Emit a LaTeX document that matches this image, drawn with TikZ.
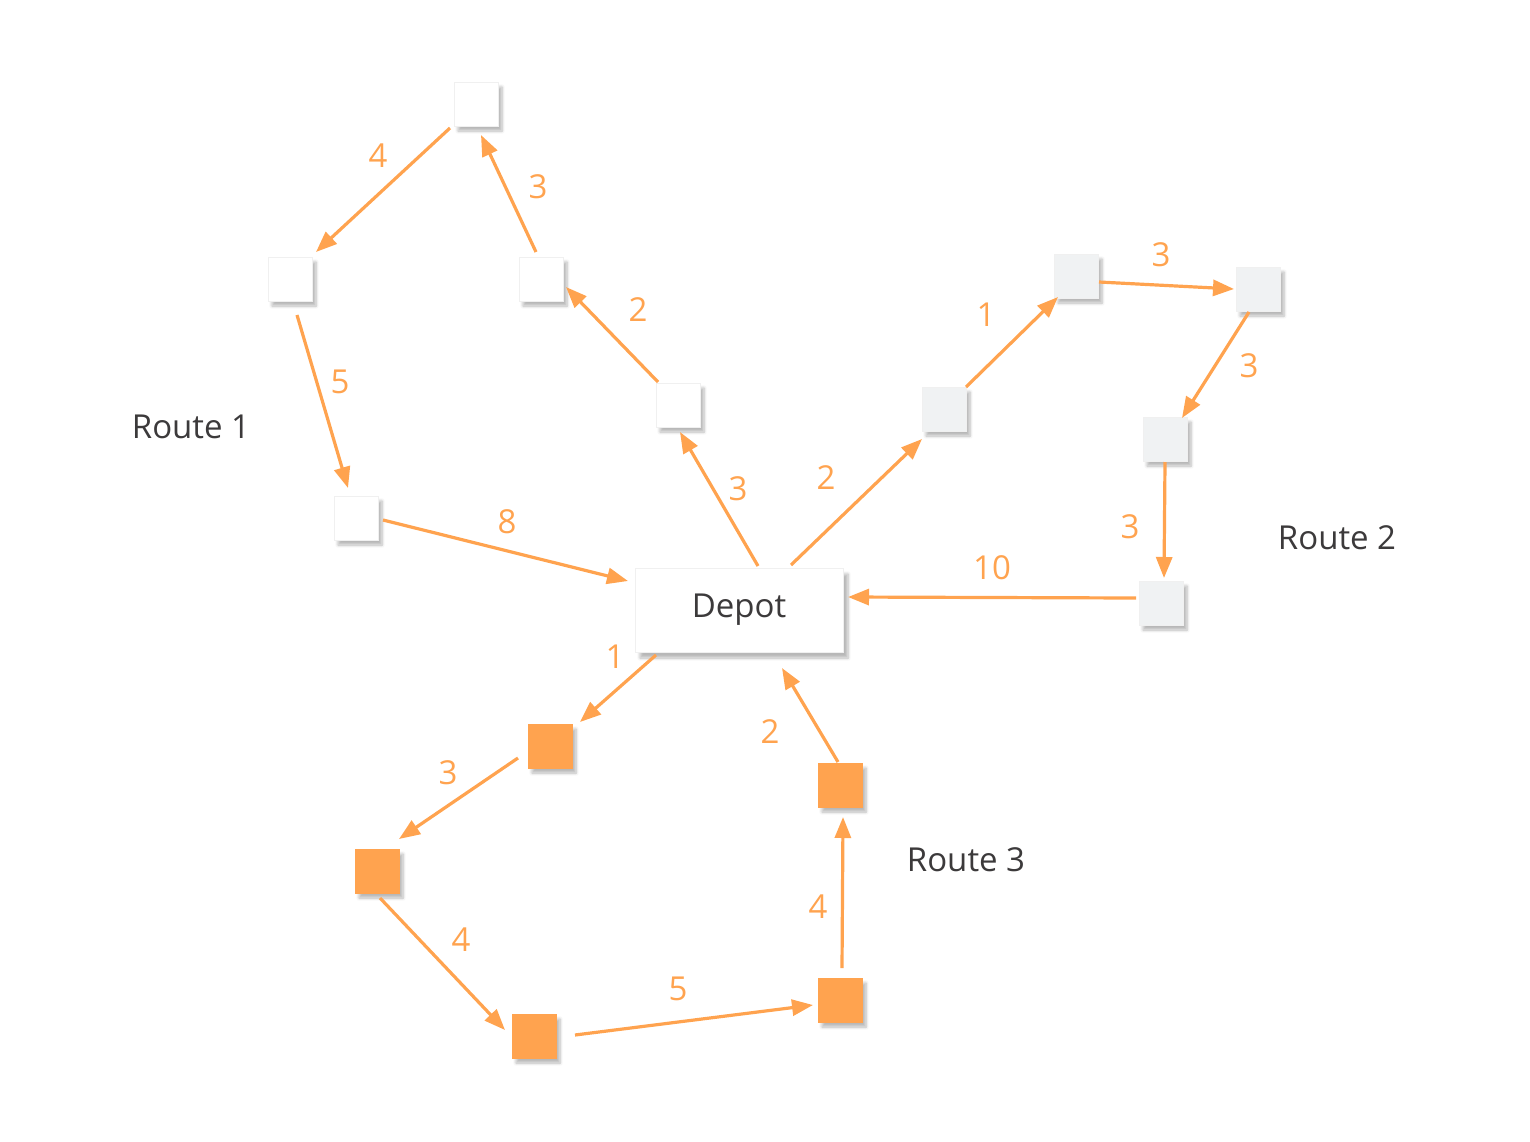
\documentclass[tikz,border=0pt]{standalone}
\usepackage{fontspec}
\setmainfont{Open Sans}
\usetikzlibrary{arrows.meta,shadows,shadows.blur}
\definecolor{edgeor}{HTML}{FFA34F}
\definecolor{txtgray}{HTML}{3C3A3B}
\definecolor{r2fill}{HTML}{F0F2F3}
\definecolor{shadowc}{HTML}{D6D8DA}
\tikzset{
  basebox/.style={rectangle, inner sep=0pt, minimum size=44pt,
    draw=black!6, line width=0.6pt,
    blur shadow={shadow xshift=4pt, shadow yshift=-5pt, shadow blur radius=3pt,
      shadow blur steps=6, shadow opacity=28}},
  rAbox/.style={basebox, fill=white},
  rBbox/.style={basebox, fill=r2fill},
  rCbox/.style={basebox, fill=edgeor, draw=edgeor},
  depotbox/.style={rectangle, inner sep=0pt, minimum width=208pt, minimum height=84pt,
    fill=white, draw=black!6, line width=0.6pt,
    blur shadow={shadow xshift=5pt, shadow yshift=-6pt, shadow blur radius=3pt,
      shadow blur steps=6, shadow opacity=28},
    font=\fontsize{33}{38}\selectfont, text=txtgray},
  routelbl/.style={font=\fontsize{33}{38}\selectfont, text=txtgray, inner sep=0pt},
  wlbl/.style={font=\fontsize{33}{38}\selectfont, text=edgeor, inner sep=0pt},
  arr/.style={draw=edgeor, line width=3.2pt, -{Triangle[length=21pt,width=16pt]}},
}
\begin{document}
\begin{tikzpicture}[x=1pt,y=-1pt]
\useasboundingbox (0,0) rectangle (1530,1141);
% nodes
\node[depotbox] (depot) at (739,610) {Depot};
% route 1
\node[rAbox] (a1) at (476,104) {};
\node[rAbox] (a2) at (290,279) {};
\node[rAbox] (a3) at (541,279) {};
\node[rAbox] (a4) at (678,405) {};
\node[rAbox] (a5) at (356,518) {};
% route 2
\node[rBbox] (b1) at (944,409) {};
\node[rBbox] (b2) at (1076,276) {};
\node[rBbox] (b3) at (1258,289) {};
\node[rBbox] (b4) at (1165,439) {};
\node[rBbox] (b5) at (1161,603) {};
% route 3
\node[rCbox] (c1) at (550,746) {};
\node[rCbox] (c2) at (377,871) {};
\node[rCbox] (c3) at (534,1036) {};
\node[rCbox] (c4) at (840,1000) {};
\node[rCbox] (c5) at (840,785) {};
% route labels
\node[routelbl] (lr1) at (191,427) {Route 1};
\node[routelbl] (lr2) at (1337,538) {Route 2};
\node[routelbl] (lr3) at (966,860) {Route 3};
% connectors route 1
\draw[arr] ([shift={(19,-44)}]depot.center) -- ([shift={(2,27)}]a4.center);
\draw[arr] ([shift={(-20,-23)}]a4.center) -- ([shift={(25,8)}]a3.center);
\draw[arr] ([shift={(-5,-27)}]a3.center) -- ([shift={(5,31)}]a1.center);
\draw[arr] ([shift={(-26,24)}]a1.center) -- ([shift={(26,-27)}]a2.center);
\draw[arr] ([shift={(7,36)}]a2.center) -- ([shift={(-8,-30)}]a5.center);
\draw[arr] ([shift={(27,2)}]a5.center) -- ([shift={(-111,-29)}]depot.center);
% connectors route 2
\draw[arr] ([shift={(52,-45)}]depot.center) -- ([shift={(-22,30)}]b1.center);
\draw[arr] ([shift={(22,-22)}]b1.center) -- ([shift={(-18,21)}]b2.center);
\draw[arr] ([shift={(23,6)}]b2.center) -- ([shift={(-24,0)}]b3.center);
\draw[arr] ([shift={(-9,23)}]b3.center) -- ([shift={(17,-21)}]b4.center);
\draw[arr] ([shift={(0,23)}]b4.center) -- ([shift={(3,-25)}]b5.center);
\draw[arr] ([shift={(-25,-5)}]b5.center) -- ([shift={(109,-13)}]depot.center);
% connectors route 3
\draw[arr] ([shift={(-83,45)}]depot.center) -- ([shift={(30,-24)}]c1.center);
\draw[arr] ([shift={(-32,12)}]c1.center) -- ([shift={(22,-32)}]c2.center);
\draw[arr] ([shift={(3,27)}]c2.center) -- ([shift={(-29,-6)}]c3.center);
\draw[arr] ([shift={(41,-1)}]c3.center) -- ([shift={(-27,5)}]c4.center);
\draw[arr] ([shift={(2,-32)}]c4.center) -- ([shift={(3,32)}]c5.center);
\draw[arr] ([shift={(-2,-23)}]c5.center) -- ([shift={(43,58)}]depot.center);
% weights
\node[wlbl] (w1) at (738,489) {3};
\node[wlbl] (w2) at (638,310) {2};
\node[wlbl] (w3) at (538,187) {3};
\node[wlbl] (w4) at (378,156) {4};
\node[wlbl] (w5) at (340,382) {5};
\node[wlbl] (w6) at (507,522) {8};
\node[wlbl] (w7) at (826,478) {2};
\node[wlbl] (w8) at (986,315) {1};
\node[wlbl] (w9) at (1161,255) {3};
\node[wlbl] (w10) at (1249,366) {3};
\node[wlbl] (w11) at (1130,527) {3};
\node[wlbl] (w12) at (992,568) {10};
\node[wlbl] (w13) at (615,657) {1};
\node[wlbl] (w14) at (448,773) {3};
\node[wlbl] (w15) at (461,940) {4};
\node[wlbl] (w16) at (678,989) {5};
\node[wlbl] (w17) at (818,907) {4};
\node[wlbl] (w18) at (770,732) {2};
\end{tikzpicture}
\end{document}
